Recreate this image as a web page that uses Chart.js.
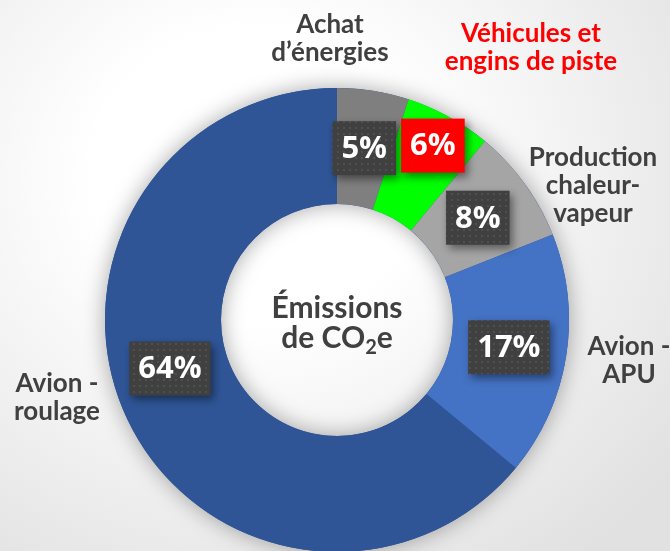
<!DOCTYPE html>
<html lang="fr">
<head>
<meta charset="utf-8">
<title>Émissions de CO2e</title>
<script src="https://cdn.jsdelivr.net/npm/chart.js@4.4.1/dist/chart.umd.min.js"></script>
<style>
  html, body {
    margin: 0;
    padding: 0;
    width: 670px;
    height: 551px;
    overflow: hidden;
    background: radial-gradient(ellipse at 38% 32%, #ffffff 28%, #e1e1e1 90%);
  }
  #wrap {
    position: relative;
    width: 670px;
    height: 553px;
  }
</style>
</head>
<body>
<div id="wrap"><canvas id="co2Chart"></canvas></div>
<script>
// sources d'émissions (sens horaire depuis midi)
const categories = [
  ["Achat", "d\u2019énergies"],
  ["Véhicules et", "engins de piste"],
  ["Production", "chaleur-", "vapeur"],
  ["Avion -", "APU"],
  ["Avion -", "roulage"]
];
const shares = [5, 6, 8, 17, 64];
const percentLabels = ["5%", "6%", "8%", "17%", "64%"];
const centerTitle = ["Émissions", "de CO", "2", "e"];

const sliceColors = ["#7F7F7F", "#00FF00", "#A5A5A5", "#4472C4", "#2F5597"];
const boxColors = ["#404040", "#FF0000", "#404040", "#404040", "#404040"];
const nameColors = ["#404040", "#FF0000", "#404040", "#404040", "#404040"];
// petits décalages des étiquettes % (rayon px, angle deg)
const boxNudge = [[0, 0], [25, 0], [0, 0], [0, 0], [0, 9]];
// position des noms par rapport au centre du graphique (x, ligne de base de la 1re ligne)
const nameAnchor = [[-7, -287], [194, -278], [256, -154], [292, 35], [-280, 72]];

const LINE_H = 28;

// motif pointillé des étiquettes
function dotPattern(ctx, base) {
  const c = document.createElement("canvas");
  c.width = 6; c.height = 6;
  const p = c.getContext("2d");
  p.fillStyle = base;
  p.fillRect(0, 0, 6, 6);
  p.fillStyle = "#4f4f4f";
  p.fillRect(1, 1, 2, 2);
  return ctx.createPattern(c, "repeat");
}

const ringShadow = {
  id: "ringShadow",
  beforeDatasetsDraw(chart) {
    const arc = chart.getDatasetMeta(0).data[0];
    if (!arc) return;
    const ctx = chart.ctx;
    ctx.save();
    ctx.shadowColor = "rgba(0,0,0,0.35)";
    ctx.shadowBlur = 22;
    ctx.fillStyle = "#2F5597";
    ctx.beginPath();
    ctx.arc(arc.x, arc.y, arc.outerRadius, 0, Math.PI * 2);
    ctx.arc(arc.x, arc.y, arc.innerRadius, 0, Math.PI * 2, true);
    ctx.fill();
    ctx.restore();
  }
};

const sliceLabels = {
  id: "sliceLabels",
  afterDatasetsDraw(chart) {
    const ctx = chart.ctx;
    const arcs = chart.getDatasetMeta(0).data;
    const cx = arcs[0].x, cy = arcs[0].y;

    // boîtes de pourcentage
    arcs.forEach((arc, i) => {
      const mid = (arc.startAngle + arc.endAngle) / 2 + boxNudge[i][1] * Math.PI / 180;
      const r = (arc.innerRadius + arc.outerRadius) / 2 + boxNudge[i][0];
      const x = cx + Math.cos(mid) * r;
      const y = cy + Math.sin(mid) * r;
      ctx.save();
      ctx.font = "bold 31px 'Open Sans'";
      const w = ctx.measureText(percentLabels[i]).width + 18;
      const h = 54;
      ctx.shadowColor = "rgba(0,0,0,0.45)";
      ctx.shadowBlur = 8;
      ctx.shadowOffsetX = 3;
      ctx.shadowOffsetY = 4;
      ctx.fillStyle = boxColors[i] === "#404040" ? dotPattern(ctx, "#404040") : boxColors[i];
      ctx.fillRect(x - w / 2, y - h / 2, w, h);
      ctx.restore();
      ctx.save();
      ctx.font = "bold 31px 'Open Sans'";
      ctx.fillStyle = "#FFFFFF";
      ctx.textAlign = "center";
      ctx.textBaseline = "middle";
      ctx.fillText(percentLabels[i], x, y + 1);
      ctx.restore();
    });

    // noms des catégories
    ctx.save();
    ctx.font = "bold 26px Lato";
    ctx.textAlign = "center";
    ctx.textBaseline = "alphabetic";
    categories.forEach((lines, i) => {
      ctx.fillStyle = nameColors[i];
      lines.forEach((line, j) => {
        ctx.fillText(line, cx + nameAnchor[i][0], cy + nameAnchor[i][1] + j * LINE_H);
      });
    });
    ctx.restore();

    // titre central
    ctx.save();
    ctx.fillStyle = "#404040";
    ctx.textBaseline = "alphabetic";
    ctx.textAlign = "center";
    ctx.font = "bold 30px Lato";
    ctx.fillText(centerTitle[0], cx, cy - 2);
    ctx.textAlign = "left";
    const big = "bold 30px Lato", small = "bold 20px Lato";
    ctx.font = big;
    const w1 = ctx.measureText(centerTitle[1]).width;
    const w3 = ctx.measureText(centerTitle[3]).width;
    ctx.font = small;
    const w2 = ctx.measureText(centerTitle[2]).width;
    let x0 = cx - (w1 + w2 + w3) / 2;
    const base = cy + 28;
    ctx.font = big;
    ctx.fillText(centerTitle[1], x0, base);
    ctx.font = small;
    ctx.fillText(centerTitle[2], x0 + w1, base + 6);
    ctx.font = big;
    ctx.fillText(centerTitle[3], x0 + w1 + w2, base);
    ctx.restore();
  }
};

new Chart(document.getElementById("co2Chart"), {
  type: "doughnut",
  data: {
    labels: categories.map(l => l.join(" ")),
    datasets: [{
      data: shares,
      backgroundColor: sliceColors,
      borderWidth: 0
    }]
  },
  options: {
    responsive: true,
    maintainAspectRatio: false,
    animation: false,
    cutout: "50%",
    layout: { padding: { top: 88, left: 105, right: 101, bottom: 1 } },
    plugins: {
      legend: { display: false },
      tooltip: { enabled: false }
    }
  },
  plugins: [ringShadow, sliceLabels]
});
</script>
</body>
</html>
